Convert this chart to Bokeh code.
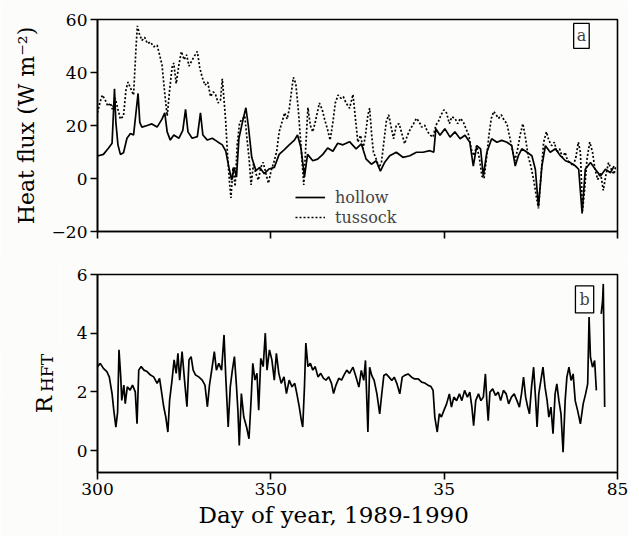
from bokeh.plotting import figure
from bokeh.layouts import column, row
from bokeh.models import Range1d, FixedTicker, Label, Legend, LegendItem, Title, Spacer
from bokeh.embed import file_html
from bokeh.resources import INLINE

FONT = "DejaVu Serif"
BG = "#fcfcfa"
NAN = float("nan")

# ---------------- data ----------------
x_ticks = [300, 350, 400, 450]
x_tick_labels = ["300", "350", "35", "85"]
flux_ticks = [-20, 0, 20, 40, 60]
ratio_ticks = [0, 2, 4, 6]

hollow_day = [300.0, 301.7, 303.2, 304.2, 304.6, 304.9, 305.3, 305.9, 306.6, 307.5,
              308.5, 309.5, 310.4, 311.1, 311.7, 312.2, 312.8, 314.3, 315.7, 317.2,
              318.6, 319.4, 320.1, 321.0, 322.0, 323.5, 324.6, 325.4, 326.1, 327.3,
              328.8, 329.7, 330.4, 331.7, 333.1, 334.6, 336.0, 337.0, 337.9, 338.7,
              339.4, 340.1, 340.8, 341.8, 342.8, 343.5, 344.5, 345.7, 346.8, 348.1,
              349.5, 351.0, 352.4, 353.9, 355.3, 356.8, 357.7, 358.7, 359.7, 360.6,
              362.1, 363.5, 365.0, 366.4, 367.9, 369.3, 370.8, 372.7,
              374.6, 376.1, 377.5, 379.0, 380.4, 381.6, 382.8, 384.3, 386.2, 388.1,
              390.1, 392.0, 393.9, 395.9, 397.0, 397.6, 398.8, 400.2, 401.7, 403.1,
              404.6, 406.0, 407.4, 408.4, 409.4, 410.5, 411.3, 412.3, 413.7, 415.2,
              416.6, 418.1, 419.5, 420.5, 421.4, 422.4, 423.9, 425.3, 426.3, 427.2,
              428.2, 429.2, 430.6, 432.1, 433.5, 435.0, 436.4, 437.9, 438.8, 439.8,
              440.7, 442.2, 443.6, 445.1, 446.5, 448.0, 449.0]
hollow_flux = [8.5, 9.1, 11.5, 13.3, 24.8, 33.9, 21.2, 12.7, 9.1, 9.7,
               15.2, 17.0, 16.4, 24.8, 32.1, 21.2, 19.4, 20.0, 20.6, 19.4,
               22.4, 24.8, 17.6, 14.5, 16.4, 15.2, 18.2, 26.1, 17.6, 15.2,
               15.8, 24.8, 16.4, 14.5, 15.2, 13.9, 12.7, 10.3, 4.2, -0.6,
               4.2, 0.6, 15.2, 21.2, 26.7, 20.0, 7.9, 3.0, 4.2, 1.8,
               3.6, 4.2, 9.1, 10.9, 12.7, 14.5, 16.4, 11.5, 0.6, 9.1,
               6.7, 7.3, 9.1, 11.5, 10.3, 13.3, 12.7, 13.9,
               11.2, 13.1, 7.3, 5.4, 6.7, 2.8, 6.0, 8.6, 9.9, 8.0,
               8.6, 9.9, 9.9, 10.5, 9.9, 18.8, 16.3, 18.8, 15.6, 17.6,
               15.0, 16.3, 13.7, 4.7, 12.4, 11.2, 0.9, 9.9, 15.0, 13.7,
               14.4, 13.7, 12.4, 4.7, 8.6, 11.2, 9.9, 8.6, 3.5, -10.6,
               4.7, 12.4, 9.9, 11.2, 8.6, 6.7, 6.0, 4.7, 3.5, -13.2,
               3.5, 6.0, 3.5, 0.9, 3.5, 2.2, 4.7]

tussock_day = [300.0, 300.8, 301.4, 302.2, 303.0, 303.7, 304.3, 305.1, 305.9, 306.6,
               307.5, 308.2, 308.8, 309.6, 310.4, 311.1, 311.5, 312.1, 312.8, 313.6,
               314.4, 315.3, 316.2, 317.2, 317.9, 318.6, 319.4, 320.1, 320.8, 321.5,
               322.0, 322.7, 323.5, 324.2, 325.0, 325.7, 326.4, 327.1, 327.9, 328.8,
               329.5, 330.2, 331.0, 331.8, 332.6, 333.4, 334.1, 334.8, 335.5, 336.0,
               336.5, 337.0, 337.5, 338.1, 338.5, 339.1, 339.7, 340.3, 341.0, 341.8,
               342.5, 343.1, 343.7, 344.3, 345.0, 345.7, 346.4, 347.1, 347.8, 348.6,
               349.3, 350.1, 351.0, 351.7, 352.4, 353.2, 354.0, 354.7, 355.3, 356.0,
               356.5, 357.2, 358.0, 358.8, 359.5, 360.1, 360.7, 361.4, 362.1, 362.8,
               363.4, 364.0, 364.8, 365.5, 366.3, 367.1, 367.9, 368.6, 369.4, 370.2,
               370.9, 371.7,
               372.7, 373.7, 374.4, 375.1, 375.9, 376.6, 377.3, 378.0, 378.5, 379.1,
               379.6, 380.4, 381.2, 381.9, 382.6, 383.3, 384.0, 384.8, 385.4, 386.2,
               387.0, 387.8, 388.6, 389.4, 390.3, 391.2, 392.0, 392.8, 393.5, 394.4,
               395.2, 396.1, 396.8, 397.6, 398.3, 399.1, 399.9, 400.7, 401.5, 402.2,
               403.1, 403.9, 404.7, 405.5, 406.3, 407.1, 407.8, 408.6, 409.4, 410.2,
               410.9, 411.5, 412.3, 412.9, 413.6, 414.3, 415.0, 415.7, 416.5, 417.3,
               418.1, 418.8, 419.6, 420.4, 421.2, 421.9, 422.7, 423.5, 424.2, 425.0,
               425.8, 426.6, 427.2, 427.9, 428.7, 429.5, 430.2, 431.0, 431.8, 432.5,
               433.3, 434.1, 434.9, 435.6, 436.4, 437.2, 438.0, 438.7, 439.3, 439.9,
               440.5, 441.2, 442.0, 442.8, 443.5, 444.3, 445.1, 445.9, 446.6, 447.4,
               448.2, 449.0, 449.5]
tussock_flux = [24.8, 29.1, 31.5, 29.7, 27.3, 28.5, 26.1, 30.3, 26.1, 22.4,
                23.6, 33.3, 36.4, 33.9, 31.5, 49.1, 57.6, 54.5, 52.1, 53.3,
                50.9, 51.5, 49.7, 50.3, 46.7, 43.0, 32.1, 23.6, 33.3, 41.8,
                43.6, 35.8, 43.0, 47.9, 44.8, 46.7, 42.4, 44.2, 46.1, 47.9,
                41.8, 38.2, 35.2, 36.4, 30.9, 32.7, 31.5, 28.5, 29.7, 37.6,
                29.7, 21.2, 9.1, -1.8, -7.3, 4.2, -3.0, 12.7, 21.2, 22.4,
                23.6, 15.2, 7.9, -2.4, 5.5, 1.8, -0.6, 4.2, 6.1, 1.8,
                -1.8, 3.0, 6.7, 10.3, 17.6, 21.2, 24.8, 22.4, 26.1, 33.3,
                38.2, 35.8, 24.8, 10.3, -2.4, 12.7, 26.7, 20.0, 17.6, 21.2,
                24.8, 28.5, 26.1, 22.4, 18.8, 14.5, 21.2, 28.5, 31.5, 30.3,
                30.9, 28.5,
                26.5, 31.7, 22.7, 13.7, 16.3, 11.2, 16.3, 24.0, 26.5, 16.3,
                9.9, 7.3, 4.1, 6.0, 13.7, 21.4, 24.0, 18.8, 15.0, 20.1,
                20.7, 16.9, 13.1, 16.3, 18.8, 20.7, 22.7, 21.4, 19.4, 20.1,
                17.6, 16.3, 15.6, 20.1, 21.4, 24.0, 25.9, 24.7, 20.7, 23.3,
                22.7, 20.7, 22.7, 21.4, 18.8, 16.3, 11.2, 8.6, 12.4, 7.3,
                0.9, 0.0, 8.6, 16.3, 22.7, 25.3, 24.0, 22.7, 24.0, 22.0,
                20.7, 16.3, 11.2, 6.7, 11.2, 16.3, 20.7, 15.0, 8.6, 4.7,
                -0.4, -6.9, -11.3, 0.9, 13.7, 17.6, 14.4, 12.4, 13.7, 9.9,
                11.2, 8.0, 9.9, 6.7, 6.0, 4.7, 8.0, 13.7, 9.9, -12.2,
                -4.5, 7.3, 13.7, 9.9, 3.5, -0.4, 2.2, -4.5, 0.9, 6.0,
                3.5, 1.6, 4.7]

ratio_day = [300.0, 300.8, 301.7, 302.7, 303.4, 304.2, 304.7, 305.3, 305.8, 306.2,
             306.7, 307.0, 307.6, 308.0, 308.6, 309.4, 310.1, 310.9, 311.4, 311.9,
             312.6, 313.4, 314.3, 315.3, 316.2, 317.2, 317.9, 318.4, 319.1, 319.7,
             320.3, 320.8, 321.5, 322.1, 322.7, 323.2, 323.7, 324.4, 325.1, 325.8,
             326.4, 327.0, 327.6, 328.3, 329.2, 330.2, 331.0, 331.7, 332.3, 333.1,
             333.7, 334.3, 335.0, 335.8, 336.5, 337.0, 337.7, 338.3, 338.9, 339.5,
             340.1, 340.5, 340.9, 341.5, 342.2, 343.0, 343.7, 344.3, 344.8, 345.4,
             346.0, 346.5, 347.1, 347.8, 348.4, 348.9, 349.6, 350.3, 351.0, 351.6,
             352.3, 353.0, 353.8, 354.5, 355.3, 356.1, 356.9, 357.5, 358.2, 358.8,
             359.2, 359.7, 360.1, 360.7, 361.4, 362.1, 362.8, 363.6, 364.4, 365.2,
             365.9, 366.7, 367.5, 368.1, 368.8, 369.6, 370.4, 371.1, 371.9, 372.7,
             373.7, 374.6, 375.4, 376.1, 376.8, 377.3, 377.7, 378.0, 378.5, 379.1,
             379.8, 380.6, 381.4, 382.0, 382.6, 383.3, 384.1, 384.9, 385.6, 386.4,
             387.2, 387.9, 388.6, 389.6, 390.6, 391.5, 392.5, 393.5, 394.4, 395.4,
             396.2, 396.8, 397.3, 398.0, 398.6, 399.2, 399.9, 400.7, 401.5, 402.1,
             402.8, 403.6, 404.4, 405.1, 405.9, 406.7, 407.4, 408.0, 408.5, 409.1,
             409.9, 410.6, 411.3, 411.9, 412.3, 412.7, 413.2, 414.0, 414.8, 415.6,
             416.3, 417.1, 417.9, 418.6, 419.4, 420.2, 421.0, 421.7, 422.3, 422.9,
             423.5, 424.1, 424.6, 425.2, 425.8, 426.4, 426.8, 427.3, 427.9, 428.5,
             429.1, 429.7, 430.2, 430.8, 431.4, 432.0, 432.5, 433.1, 433.7, 434.3,
             434.9, 435.4, 436.0, 436.6, 437.2, 437.8, 438.5, 439.3, 440.1, 440.8,
             441.4, 441.8, 442.2, 442.8, 443.4, 443.9, 444.6, 445.3, 445.7, 445.9,
             446.3]
ratio_val = [2.86, 2.97, 2.80, 2.69, 2.51, 1.94, 1.37, 0.80, 1.31, 3.43,
             2.51, 1.71, 2.23, 1.60, 2.17, 2.06, 2.23, 2.00, 0.91, 2.74,
             2.86, 2.74, 2.69, 2.57, 2.51, 2.29, 2.46, 2.06, 1.49, 1.14,
             0.63, 1.71, 2.40, 3.09, 2.63, 3.31, 2.40, 3.37, 2.40, 1.49,
             3.09, 3.20, 2.74, 2.57, 2.51, 2.40, 2.23, 1.49, 2.23, 2.86,
             3.37, 2.74, 2.97, 2.74, 3.94, 2.51, 0.80, 2.17, 2.74, 3.20,
             2.17, 1.37, 0.17, 1.94, 1.14, 0.80, 0.40, 1.71, 2.97, 2.40,
             2.63, 1.37, 3.14, 2.86, 4.00, 2.74, 3.43, 3.09, 2.40, 3.31,
             2.63, 2.29, 2.51, 1.94, 2.40, 2.17, 2.29, 1.94, 1.49, 1.03,
             0.80, 2.17, 3.66, 2.86, 2.97, 2.74, 2.86, 2.51, 2.63, 2.46,
             2.40, 2.51, 2.29, 1.94, 2.23, 2.46, 2.40, 2.57, 2.74, 2.63,
             2.84, 2.50, 2.16, 2.73, 2.39, 3.07, 1.70, 0.63, 2.84, 2.56,
             2.39, 1.93, 1.25, 1.93, 2.56, 2.61, 2.50, 2.39, 2.50, 2.27,
             1.93, 2.50, 2.56, 2.61, 2.50, 2.44, 2.44, 2.33, 2.30, 2.22,
             2.18, 2.05, 1.14, 0.63, 1.25, 1.14, 1.36, 1.59, 1.93, 1.48,
             1.82, 1.70, 1.93, 1.70, 2.05, 1.82, 1.99, 1.48, 0.85, 1.70,
             1.93, 1.70, 1.82, 2.61, 1.70, 1.02, 1.99, 2.10, 1.88, 1.99,
             1.70, 2.05, 1.93, 1.59, 1.82, 1.93, 1.70, 1.48, 1.93, 2.50,
             1.82, 1.48, 1.25, 2.16, 2.84, 1.70, 0.80, 1.93, 2.39, 2.84,
             2.16, 1.70, 1.14, 1.48, 0.57, 1.93, 2.27, 1.70, 1.25, -0.06,
             1.70, 2.50, 2.84, 2.39, 2.61, 1.70, 1.36, 0.91, 1.59, 1.93,
             2.27, 4.55, 3.18, 2.84, 3.07, 2.05, NAN, 4.66, 5.11, 5.68,
             1.48]

# ---------------- helpers ----------------
def style_axes(p, yticks):
    p.background_fill_color = BG
    p.border_fill_color = BG
    p.outline_line_color = "black"
    p.outline_line_width = 1.6
    p.xgrid.visible = False
    p.ygrid.visible = False
    for ax in (p.xaxis[0], p.yaxis[0]):
        ax.axis_line_color = "black"
        ax.axis_line_width = 1.6
        ax.major_tick_line_color = "black"
        ax.major_tick_line_width = 1.6
        ax.major_tick_out = 7
        ax.major_tick_in = 0
        ax.minor_tick_line_color = None
        ax.major_label_text_font = FONT
        ax.major_label_text_font_size = "17px"
        ax.major_label_text_color = "black"
        ax.axis_label_text_font = FONT
        ax.axis_label_text_font_style = "normal"
        ax.axis_label_text_color = "black"
    p.xaxis.ticker = FixedTicker(ticks=x_ticks)
    p.yaxis.ticker = FixedTicker(ticks=yticks)
    p.yaxis.major_label_standoff = 3


def label_strip(text, size, width, height, left, bottom):
    """A tiny figure whose only visible content is its rotated y-axis label."""
    f = figure(width=width, height=height, x_range=Range1d(0, 1), y_range=Range1d(0, 1),
               x_axis_type=None, output_backend="svg", toolbar_location=None,
               min_border_left=left, min_border_right=0, min_border_top=0,
               min_border_bottom=bottom)
    f.background_fill_color = BG
    f.border_fill_color = BG
    f.outline_line_color = None
    f.ygrid.visible = False
    ax = f.yaxis[0]
    ax.ticker = FixedTicker(ticks=[])
    ax.axis_line_color = None
    ax.major_tick_line_color = None
    ax.minor_tick_line_color = None
    ax.major_tick_out = 0
    ax.major_label_standoff = 0
    ax.axis_label = text
    ax.axis_label_standoff = 0
    ax.axis_label_text_font = FONT
    ax.axis_label_text_font_size = size
    ax.axis_label_text_font_style = "normal"
    ax.axis_label_text_color = "black"
    return f


x_range = Range1d(300, 450)

# ---------------- top panel ----------------
p1 = figure(width=628, height=263, x_range=x_range, y_range=Range1d(-20, 60),
            output_backend="svg", toolbar_location=None,
            min_border_left=97, min_border_right=11, min_border_top=19,
            min_border_bottom=32)
style_axes(p1, flux_ticks)
p1.xaxis.major_label_overrides = {t: "" for t in x_ticks}
p1.yaxis.axis_label = "Heat flux (W m\u207b\u00b2)"
p1.yaxis.axis_label_text_font_size = "22px"
p1.yaxis.axis_label_standoff = 10

r_h = p1.line(hollow_day, hollow_flux, line_color="black", line_width=1.7)
r_t = p1.line(tussock_day, tussock_flux, line_color="black", line_width=1.7,
              line_dash="2 2")

leg = Legend(items=[LegendItem(label="hollow", renderers=[r_h]),
                    LegendItem(label="tussock", renderers=[r_t])],
             location=(198, 4), orientation="vertical")
leg.label_text_font = FONT
leg.label_text_font_size = "16px"
leg.glyph_width = 30
leg.glyph_height = 20
leg.label_height = 20
leg.label_standoff = 10
leg.spacing = 0
leg.padding = 0
leg.margin = 0
leg.border_line_color = None
leg.background_fill_alpha = 0
p1.add_layout(leg, "center")

p1.add_layout(Label(x=439.6, y=53.8, text="a", text_font=FONT,
                    text_font_size="16px", text_align="center",
                    text_baseline="middle", border_line_color="black",
                    border_line_width=1.3, background_fill_color="white",
                    padding=3))

# ---------------- y-axis label of the lower panel: R with subscript HFT ----------
gap = Spacer(width=60, height=87)
gap.styles = {"background-color": BG}
hft = label_strip("HFT", "17px", 60, 45, 56, 0)
rr = label_strip("R", "23px", 60, 141, 54, 123)
lab = column(gap, hft, rr, spacing=0)

# ---------------- bottom panel ----------------
p2 = figure(width=568, height=273, x_range=x_range, y_range=Range1d(-0.75, 6),
            output_backend="svg", toolbar_location=None,
            min_border_left=37, min_border_right=11, min_border_top=11,
            min_border_bottom=64)
style_axes(p2, ratio_ticks)
p2.xaxis.major_label_overrides = {t: s for t, s in zip(x_ticks, x_tick_labels)}
p2.xaxis.major_label_standoff = 3

p2.line(ratio_day, ratio_val, line_color="black", line_width=1.7)

p2.add_layout(Label(x=440.5, y=5.15, text="b", text_font=FONT,
                    text_font_size="16px", text_align="center",
                    text_baseline="middle", border_line_color="black",
                    border_line_width=1.3, background_fill_color="white",
                    padding=4))

xt = Title(text="Day of year, 1989-1990", align="left", offset=101,
           text_font=FONT, text_font_size="23px", text_font_style="normal",
           text_color="black", standoff=4)
p2.add_layout(xt, "below")

layout = column(p1, row(lab, p2, spacing=0), spacing=0)

open("out.html", "w").write(file_html(layout, INLINE))
